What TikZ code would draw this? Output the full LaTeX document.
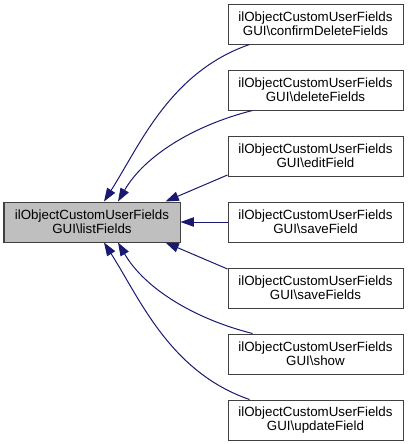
\documentclass[tikz,border=0pt]{standalone}
\usepackage{fontspec}
\setmainfont{Liberation Sans}
\usetikzlibrary{arrows.meta,calc}
\definecolor{edgec}{HTML}{191970}
\definecolor{boxc}{HTML}{404040}
\definecolor{fillc}{HTML}{BFBFBF}
\begin{document}
\begin{tikzpicture}[x=0.75pt,y=-0.75pt,
  box/.style={draw=boxc, line width=0.75pt, minimum width=131.25pt, minimum height=30pt, inner sep=0pt, align=center, font=\fontsize{10}{10.5}\selectfont},
  edge/.style={draw=edgec, line width=0.75pt, -{Triangle[length=10pt,width=7pt]}}]
\useasboundingbox (0,0) rectangle (408,444);
\node[box, fill=fillc, minimum width=132pt] (l) at (92,222) {ilObjectCustomUserFields\\GUI\textbackslash listFields};
\node[box] (r1) at (315.5,24) {ilObjectCustomUserFields\\GUI\textbackslash confirmDeleteFields};
\node[box] (r2) at (315.5,90) {ilObjectCustomUserFields\\GUI\textbackslash deleteFields};
\node[box] (r3) at (315.5,156) {ilObjectCustomUserFields\\GUI\textbackslash editField};
\node[box] (r4) at (315.5,222) {ilObjectCustomUserFields\\GUI\textbackslash saveField};
\node[box] (r5) at (315.5,288) {ilObjectCustomUserFields\\GUI\textbackslash saveFields};
\node[box] (r6) at (315.5,354) {ilObjectCustomUserFields\\GUI\textbackslash show};
\node[box] (r7) at (315.5,420) {ilObjectCustomUserFields\\GUI\textbackslash updateField};
\draw[edge] ($(r1.south west)+(22,0)$) .. controls (170,72) and (140,145) .. ($(l.north)+(12,0)$);
\draw[edge] ($(r2.south west)+(25,0)$) .. controls (195,125) and (145,155) .. ($(l.north)+(26,0)$);
\draw[edge] ($(r3.west)+(0,19)$) -- ($(l.north east)+(-15,0)$);
\draw[edge] (r4.west) -- (l.east);
\draw[edge] ($(r5.west)+(0,-19)$) -- ($(l.south east)+(-15,0)$);
\draw[edge] ($(r6.north west)+(25,0)$) .. controls (195,319) and (145,289) .. ($(l.south)+(26,0)$);
\draw[edge] ($(r7.north west)+(22,0)$) .. controls (170,372) and (140,299) .. ($(l.south)+(12,0)$);
\end{tikzpicture}
\end{document}
